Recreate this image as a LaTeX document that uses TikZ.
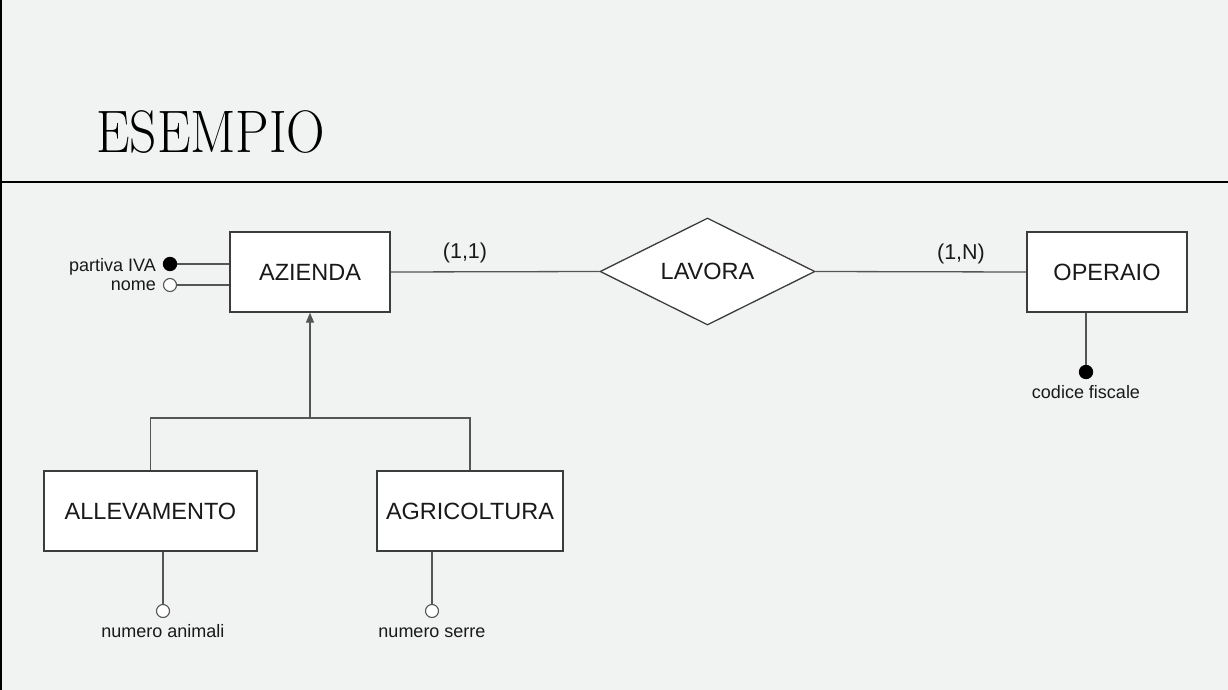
\documentclass[tikz,border=0pt]{standalone}
\usepackage{fontspec}
\setsansfont{Liberation Sans}
\usetikzlibrary{shapes.geometric,arrows.meta}
\definecolor{bg}{RGB}{241,242,242}
\definecolor{edgec}{RGB}{60,60,60}
\definecolor{linec}{RGB}{85,85,85}
\definecolor{txt}{RGB}{25,25,25}
\begin{document}
\begin{tikzpicture}[x=1pt,y=-1pt,
  entity/.style={draw=edgec,fill=white,line width=1.3pt,inner sep=0pt,
    font=\sffamily\fontsize{23.5}{26}\selectfont,text=txt},
  relship/.style={draw=edgec,fill=white,line width=1.3pt,diamond,aspect=2,inner sep=0pt,
    minimum width=215,minimum height=107,font=\sffamily\fontsize{23.5}{26}\selectfont,text=txt},
  conn/.style={draw=linec,line width=1.3pt},
  keyattr/.style={circle,fill=black,draw=black,line width=0.8pt,minimum size=13.5,inner sep=0pt},
  plainattr/.style={circle,fill=white,draw=linec,line width=1.1pt,minimum size=13,inner sep=0pt},
  attrtext/.style={font=\sffamily\fontsize{18}{20}\selectfont,text=txt,inner sep=0pt},
  cardtext/.style={font=\sffamily\fontsize{21.5}{24}\selectfont,text=txt,inner sep=0pt}]
\fill[bg] (0,0) rectangle (1228,690);
\useasboundingbox (0,0) rectangle (1228,690);
\draw[line width=2pt] (1,0) -- (1,690);
\draw[line width=1.6pt] (0,182) -- (1228,182);
\node[anchor=base west,inner sep=0pt,font=\fontsize{60}{64}\selectfont] (title) at (96,152) {\scalebox{0.89}[1]{ESEMPIO}};
% entities
\node[entity,minimum width=160,minimum height=80] (az) at (310,272) {AZIENDA};
\node[entity,minimum width=160,minimum height=80] (op) at (1107,272) {OPERAIO};
\node[entity,minimum width=213,minimum height=80] (alle) at (150.5,511) {ALLEVAMENTO};
\node[entity,minimum width=186,minimum height=80] (agri) at (470,511) {AGRICOLTURA};
\node[relship] (lav) at (707.5,271.5) {LAVORA};
% relationship lines
\draw[conn] (az.east) -- (lav.west);
\draw[conn] (lav.east) -- (op.west);
\node[cardtext] (c11) at (465,253) {(1,1)};
\node[cardtext] (c1n) at (961,254) {(1,N)};
% AZIENDA attributes
\node[keyattr] (piva) at (170,264) {};
\node[plainattr] (nome) at (170,285) {};
\draw[conn] (piva.east) -- (piva -| az.west);
\draw[conn] (nome.east) -- (nome -| az.west);
\node[attrtext,anchor=base east] (pivat) at (156,271) {partiva IVA};
\node[attrtext,anchor=base east] (nomet) at (156,290) {nome};
% OPERAIO attribute
\node[keyattr] (cf) at (1086,372) {};
\draw[conn] (cf |- op.south) -- (cf.north);
\node[attrtext,anchor=base] (cft) at (1086,398) {codice fiscale};
% generalization
\coordinate (isa) at (310,418);
\draw[conn] (alle.north) |- (isa) -| (agri.north);
\draw[conn,-{Triangle[length=10pt,width=8pt]}] (isa) -- (az.south);
% sub-entity attributes
\node[plainattr] (na) at (163,611) {};
\draw[conn] (na |- alle.south) -- (na.north);
\node[attrtext,anchor=base] (nat) at (163,637) {numero animali};
\node[plainattr] (ns) at (432,611) {};
\draw[conn] (ns |- agri.south) -- (ns.north);
\node[attrtext,anchor=base] (nst) at (432,637) {numero serre};
\end{tikzpicture}
\end{document}
